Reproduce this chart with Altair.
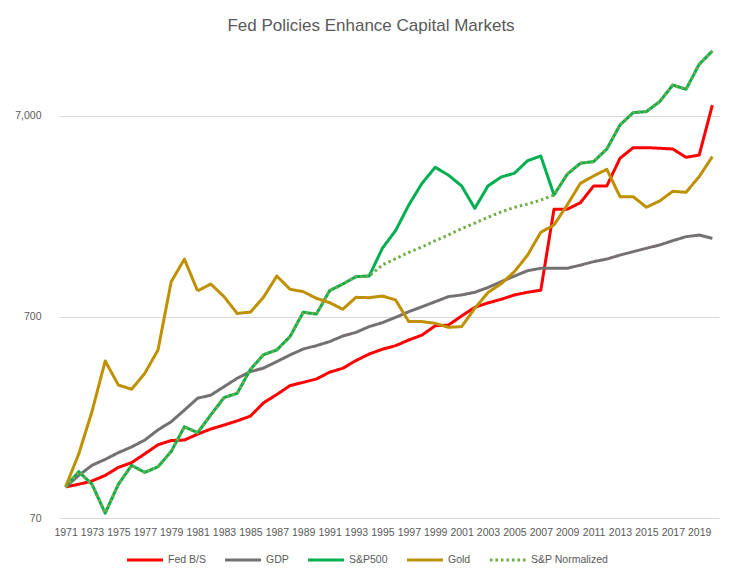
import altair as alt
import pandas as pd

years = list(range(1971, 2021))

fed_bs = [100, 103, 107, 114, 125, 132, 146, 162, 170, 171,
          183, 194, 203, 213, 225, 262, 288, 319, 331, 344,
          372, 389, 425, 458, 484, 504, 538, 569, 633, 638,
          708, 782, 823, 857, 901, 929, 952, 2405, 2405, 2592,
          3141, 3141, 4311, 4872, 4872, 4837, 4795, 4360, 4475, 7938]

gdp = [100, 114, 128, 137, 148, 158, 171, 192, 211, 241,
       276, 286, 315, 347, 374, 390, 420, 453, 485, 504,
       528, 563, 587, 627, 656, 697, 744, 787, 834, 884,
       901, 929, 981, 1049, 1119, 1190, 1223, 1223, 1223, 1268,
       1320, 1359, 1423, 1479, 1539, 1597, 1678, 1757, 1790, 1722]

sp500 = [100, 119, 103, 74, 103, 128, 118, 126, 150, 199,
         186, 228, 278, 292, 384, 455, 480, 559, 739, 724,
         946, 1021, 1111, 1119, 1539, 1883, 2526, 3236, 3890, 3557,
         3141, 2430, 3141, 3480, 3633, 4196, 4425, 2833, 3590, 4073,
         4151, 4795, 6314, 7273, 7363, 8250, 9980, 9506, 12660, 14745]

gold = [100, 146, 237, 423, 321, 306, 367, 480, 1049, 1358,
        944, 1021, 884, 729, 740, 880, 1119, 962, 936, 867,
        825, 765, 877, 873, 890, 851, 664, 664, 651, 622,
        627, 773, 927, 1025, 1177, 1423, 1848, 2008, 2526, 3236,
        3522, 3802, 2778, 2778, 2461, 2643, 2954, 2920, 3496, 4396]

sp_normalized = [100, 119, 103, 74, 103, 128, 118, 126, 150, 199,
                 186, 228, 278, 292, 384, 455, 480, 559, 739, 724,
                 946, 1021, 1111, 1119, 1270, 1365, 1469, 1561, 1678, 1791,
                 1927, 2050, 2193, 2332, 2458, 2553, 2674, 2833, 3590, 4073,
                 4151, 4795, 6314, 7273, 7363, 8250, 9980, 9506, 12660, 14745]

series_names = ["Fed B/S", "GDP", "S&P500", "Gold", "S&P Normalized"]
series_values = [fed_bs, gdp, sp500, gold, sp_normalized]
colors = ["#FF0000", "#767171", "#00B050", "#BF9000", "#70AD47"]
dashes = [[1, 0], [1, 0], [1, 0], [1, 0], [2.5, 3]]

y_ticks = [70, 700, 7000]
x_label_years = list(range(1971, 2020, 2))

rows = []
for name, vals in zip(series_names, series_values):
    for yr, v in zip(years, vals):
        rows.append({"Year": yr, "Series": name, "Value": v})
df = pd.DataFrame(rows)

FONT = "Liberation Sans"
TXT = "#595959"

legend_opts = dict(title=None, orient="none", direction="horizontal",
                   legendX=66, legendY=500,
                   symbolType="stroke", symbolSize=1300,
                   symbolStrokeWidth=3, labelOffset=3,
                   columnPadding=12, padding=0,
                   labelFontSize=10.5, labelColor=TXT,
                   labelFont=FONT)

chart = alt.Chart(df).mark_line(strokeWidth=3, strokeJoin="round").encode(
    x=alt.X("Year:O",
            axis=alt.Axis(values=x_label_years, labelAngle=0, title=None,
                          ticks=False, tickSize=0, domain=False, grid=False,
                          labelPadding=9, labelFontSize=10.5, labelColor=TXT,
                          labelFont=FONT, labelOverlap=False)),
    y=alt.Y("Value:Q",
            scale=alt.Scale(type="log", domain=[70, 16717], nice=False),
            axis=alt.Axis(values=y_ticks, format=",", title=None,
                          ticks=False, tickSize=0, domain=False, grid=True,
                          gridColor="#D9D9D9", gridWidth=1,
                          labelPadding=18, labelFontSize=10.5, labelColor=TXT,
                          labelFont=FONT)),
    color=alt.Color("Series:N",
                    scale=alt.Scale(domain=series_names, range=colors),
                    legend=alt.Legend(**legend_opts)),
    strokeDash=alt.StrokeDash("Series:N",
                              scale=alt.Scale(domain=series_names, range=dashes),
                              legend=alt.Legend(**legend_opts)),
).properties(
    width=660,
    height=478,
    title=alt.TitleParams("Fed Policies Enhance Capital Markets", fontSize=17,
                          font=FONT, fontWeight="normal", color=TXT,
                          anchor="middle", baseline="alphabetic", offset=11,
                          dx=-18, dy=19),
    autosize=alt.AutoSizeParams(type="none"),
    padding={"left": 51, "top": 32, "right": 14, "bottom": 55},
    background="white",
).configure_view(stroke=None)

chart.save("out.html", embed_options={"renderer": "svg", "actions": False})
